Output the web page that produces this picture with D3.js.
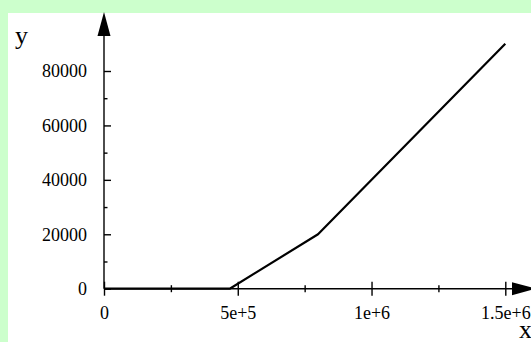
<!DOCTYPE html>
<html>
<head>
<meta charset="utf-8">
<script src="https://cdn.jsdelivr.net/npm/d3@7"></script>
<style>
  html, body { margin: 0; padding: 0; background: #ccffcc; }
  svg { display: block; }
  text { font-family: "Liberation Serif", "Times New Roman", serif; fill: #000; }
</style>
</head>
<body>
<div id="graphBox"></div>
<script>
// piecewise line
const xValues = [0, 470000, 800000, 1500000];
const yValues = [0, 0, 20000, 90000];

// tick labels
const xMajorTicks = [0, 500000, 1000000, 1500000];
const xTickLabels = ["0", "5e+5", "1e+6", "1.5e+6"];
const xMinorTicks = [250000, 750000, 1250000];
const yMajorTicks = [0, 20000, 40000, 60000, 80000];
const yTickLabels = ["0", "20000", "40000", "60000", "80000"];
const yMinorTicks = [10000, 30000, 50000, 70000];

const width = 531, height = 342;

const svg = d3.select("#graphBox").append("svg")
    .attr("width", width)
    .attr("height", height);

// white plot panel on the green page
svg.append("rect")
    .attr("x", 8).attr("y", 13)
    .attr("width", width - 8).attr("height", height - 13)
    .attr("fill", "#fff");

// scales
const x = d3.scaleLinear().domain([0, 1500000]).range([104, 505.3]);
const y = d3.scaleLinear().domain([0, 80000]).range([288.7, 71]);

const x0 = x(0), y0 = y(0);

// axis lines with arrow heads
const yTop = 12, xRight = 536, headLen = 24, headHalf = 6.5;

svg.append("line")
    .attr("x1", x0).attr("x2", x0)
    .attr("y1", y0).attr("y2", yTop + headLen)
    .attr("stroke", "#000").attr("stroke-width", 1.4);
svg.append("polygon")
    .attr("points", [[x0, yTop], [x0 - headHalf, yTop + headLen], [x0 + headHalf, yTop + headLen]].join(" "))
    .attr("fill", "#000");

svg.append("line")
    .attr("x1", x0).attr("x2", xRight - headLen)
    .attr("y1", y0).attr("y2", y0)
    .attr("stroke", "#000").attr("stroke-width", 1.4);
svg.append("polygon")
    .attr("points", [[xRight, y0], [xRight - headLen, y0 - headHalf], [xRight - headLen, y0 + headHalf]].join(" "))
    .attr("fill", "#000");

// x axis: major ticks cross the axis, labels below
const xAxis = svg.append("g")
    .attr("transform", `translate(0, ${y0})`)
    .call(d3.axisBottom(x)
        .tickValues(xMajorTicks)
        .tickFormat((d, i) => xTickLabels[i])
        .tickSize(7)
        .tickPadding(11));
xAxis.select(".domain").remove();
xAxis.selectAll(".tick line").attr("y1", -7).attr("stroke", "#000").attr("stroke-width", 1.4);
xAxis.selectAll(".tick text")
    .attr("font-family", "Liberation Serif, serif")
    .attr("font-size", 18)
    .attr("fill", "#000");

const xMinor = svg.append("g")
    .attr("transform", `translate(0, ${y0})`)
    .call(d3.axisBottom(x).tickValues(xMinorTicks).tickFormat("").tickSize(3.5));
xMinor.select(".domain").remove();
xMinor.selectAll(".tick line").attr("y1", -3.5).attr("stroke", "#000").attr("stroke-width", 1.4);

// y axis
const yAxis = svg.append("g")
    .attr("transform", `translate(${x0}, 0)`)
    .call(d3.axisLeft(y)
        .tickValues(yMajorTicks)
        .tickFormat((d, i) => yTickLabels[i])
        .tickSize(7)
        .tickPadding(10));
yAxis.select(".domain").remove();
yAxis.selectAll(".tick line").attr("x2", 7).attr("stroke", "#000").attr("stroke-width", 1.4);
yAxis.selectAll(".tick text")
    .attr("font-family", "Liberation Serif, serif")
    .attr("font-size", 18)
    .attr("fill", "#000");

const yMinor = svg.append("g")
    .attr("transform", `translate(${x0}, 0)`)
    .call(d3.axisLeft(y).tickValues(yMinorTicks).tickFormat("").tickSize(3.5));
yMinor.select(".domain").remove();
yMinor.selectAll(".tick line").attr("x2", 3.5).attr("stroke", "#000").attr("stroke-width", 1.4);

// axis names
svg.append("text")
    .attr("x", 15).attr("y", 44)
    .attr("font-size", 26)
    .text("y");
svg.append("text")
    .attr("x", 519).attr("y", 338)
    .attr("font-size", 26)
    .text("x");

// the data line
const data = xValues.map((v, i) => ({x: v, y: yValues[i]}));
svg.append("path")
    .datum(data)
    .attr("fill", "none")
    .attr("stroke", "#000")
    .attr("stroke-width", 2.2)
    .attr("stroke-linejoin", "round")
    .attr("d", d3.line().x(d => x(d.x)).y(d => y(d.y)));
</script>
</body>
</html>
